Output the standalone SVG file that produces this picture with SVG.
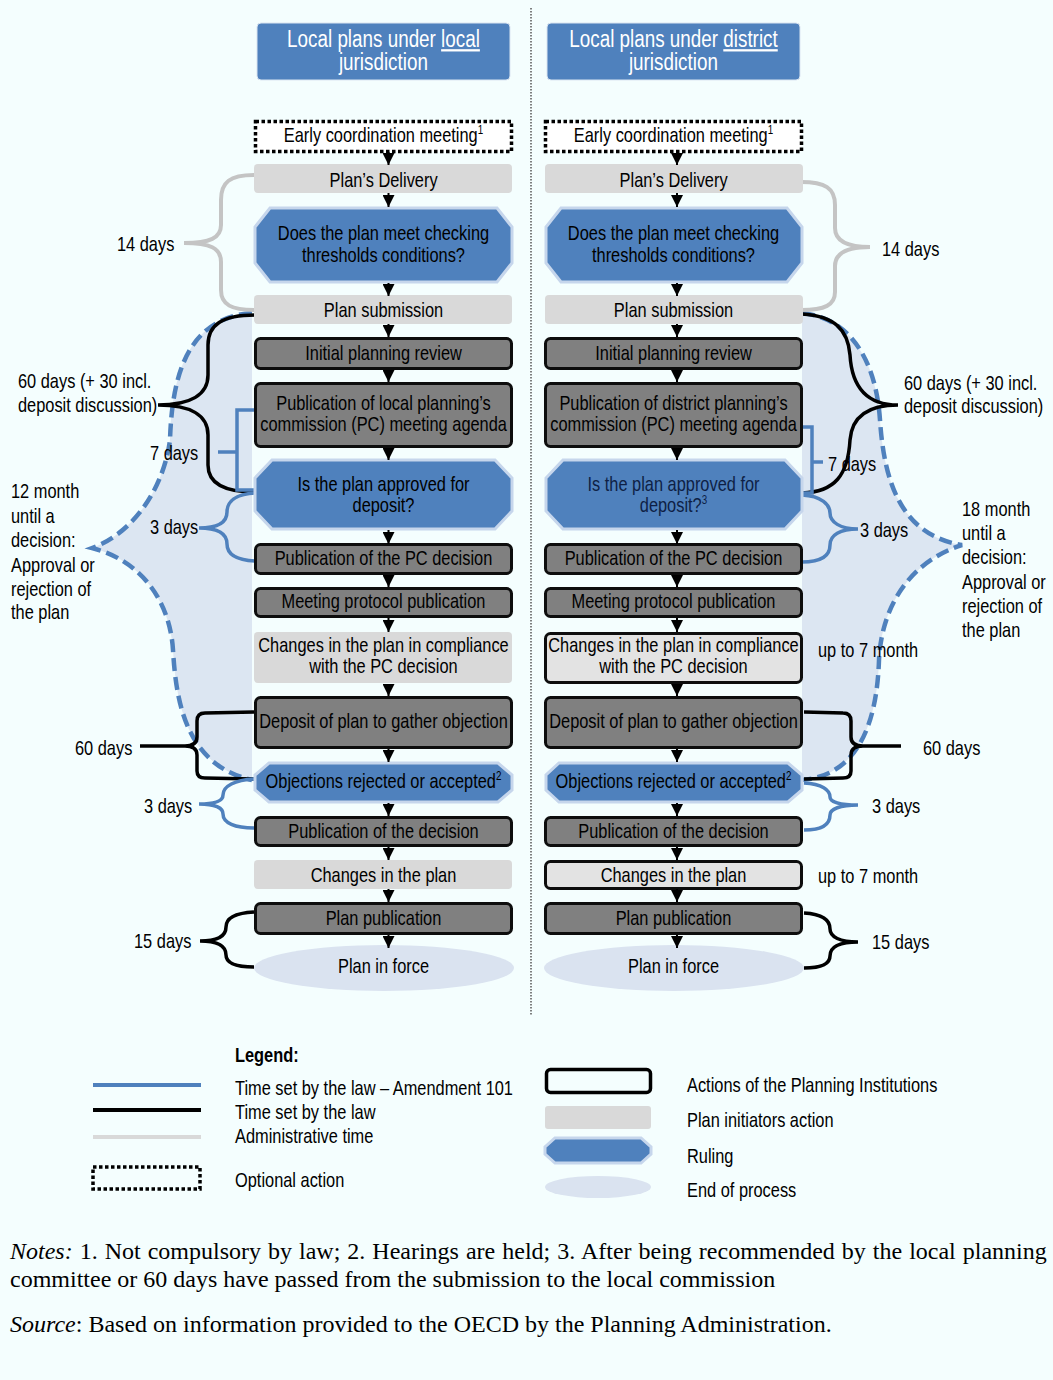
<svg xmlns="http://www.w3.org/2000/svg" width="1053" height="1380" viewBox="0 0 1053 1380">
<defs>
<style>
.t{font-family:"Liberation Sans Narrow","Arial Narrow","Liberation Sans",sans-serif;font-size:20px;fill:#000;transform-box:fill-box;transform-origin:0 50%;transform:scale(0.82,1)}
.c{text-anchor:middle;transform-origin:50% 50%}
.hd{fill:#fff;font-size:23px}
.nv{fill:#0e1f45}
.bxd{fill:#808080;stroke:#0d0d0d;stroke-width:3}
.bxl{fill:#d9d9d9}
.bxlb{fill:#e3e3e3;stroke:#0d0d0d;stroke-width:3}
.hex{fill:#4f81bd;stroke:#c6d6ec;stroke-width:3}
.opt{fill:#fff;stroke:#000;stroke-width:3.5;stroke-dasharray:3.5 2.5}
.hdr{fill:#4f81bd;stroke:#dbe5f1;stroke-width:1}
.end{fill:#dae3f0}
.bl{fill:none;stroke:#4f81bd;stroke-width:3.5}
.bk{fill:none;stroke:#000;stroke-width:3.5}
.gr{fill:none;stroke:#c4c4c4;stroke-width:4}
.dash{fill:none;stroke:#4f81bd;stroke-width:4.5;stroke-dasharray:13 6}
.area{fill:#dce6f2}
.conn{stroke:#000;stroke-width:2;marker-end:url(#ah)}
.n{font-family:"Liberation Serif","Times New Roman",serif;font-size:24px;fill:#000}
</style>
<marker id="ah" markerUnits="userSpaceOnUse" markerWidth="12" markerHeight="12" refX="12" refY="6" orient="auto">
<path d="M0,0 L12,6 L0,12 z" fill="#000"/>
</marker>
</defs>
<rect x="0" y="0" width="1053" height="1380" fill="#f4fefe"/>

<g id="areas">
<path class="area" d="M252,313 C185,318 172,380 170,440 C165,480 140,530 92,548 C140,560 170,600 173,650 C176,700 185,765 252,780 Z"/>
<path class="area" d="M802,313 C850,318 876,360 880,420 C884,480 900,535 962,545 C915,560 882,600 879,660 C877,720 860,775 802,780 Z"/>
</g>

<line id="divider" x1="531" y1="8" x2="531" y2="1015" stroke="#555" stroke-width="1.5" stroke-dasharray="1.5 1.5"/>

<g id="braces">
<path class="dash" d="M252,313 C185,318 172,380 170,440 C165,480 140,530 92,548 C140,560 170,600 173,650 C176,700 185,765 252,780"/>
<path class="dash" d="M802,313 C850,318 876,360 880,420 C884,480 900,535 962,545 C915,560 882,600 879,660 C877,720 860,775 802,780"/>
<path class="gr" d="M254,175 C230,175 221,182 221,200 L221,225 C221,238 210,243 184,243 C210,243 221,248 221,262 L221,290 C221,305 232,310 254,310"/>
<path class="gr" d="M801,182 C825,182 835,188 835,205 L835,228 C835,242 848,247 870,247 C848,247 835,252 835,266 L835,292 C835,305 825,310 801,310"/>
<path class="bk" d="M255,315 C222,315 208,325 208,345 L208,375 C208,395 190,405 158,405 C190,405 208,415 208,435 L208,465 C208,482 222,492 255,492"/>
<path class="bk" d="M802,314 C835,316 848,330 850,355 C852,390 870,405 898,405 C870,405 852,415 850,440 C848,475 835,492 802,493"/>
<path class="bl" d="M255,410 L237,410 L237,490 L255,490 M218,452 L237,452"/>
<path class="bl" d="M802,427 L812,427 L812,493 L802,493 M812,462 L823,462"/>
<path class="bl" d="M255,493 C235,494 227,502 227,512 C227,522 218,528 199,528 C218,528 227,534 227,544 C227,554 235,560 255,561"/>
<path class="bl" d="M802,495 C822,496 830,505 830,513 C830,522 840,529 858,529 C840,529 830,535 830,545 C830,555 822,562 802,562"/>
<path class="bk" stroke-width="4" d="M254,712 L205,713 Q197,713 197,721 L197,737 Q197,746 185,746 L140,746 M185,746 Q197,746 197,755 L197,771 Q197,778 205,778 L254,779"/>
<path class="bk" stroke-width="4" d="M804,712 L843,713 Q851,713 851,721 L851,737 Q851,746 863,746 L901,746 M863,746 Q851,746 851,755 L851,771 Q851,778 843,778 L804,779"/>
<path class="bl" d="M254,779 C235,780 223,786 223,795 C223,801 215,804 199,804 C215,804 223,808 223,814 C223,823 235,828 254,828"/>
<path class="bl" d="M804,783 C822,784 830,790 830,797 C830,802 840,805 858,805 C840,805 830,809 830,815 C830,824 822,830 804,830"/>
<path class="bk" d="M254,912 C235,913 226,918 226,927 C226,936 218,941 200,941 C218,941 226,946 226,955 C226,963 235,967 254,967"/>
<path class="bk" d="M804,913 C822,914 830,920 830,929 C830,937 840,942 858,942 C840,942 830,947 830,956 C830,964 822,968 804,968"/>
</g>

<g id="nodes">
<g id="hdr-left"><rect class="hdr" x="257" y="23" width="253" height="57" rx="4"/>
<text class="t c hd" x="383.5" y="47">Local plans under <tspan text-decoration="underline">local</tspan></text>
<text class="t c hd" x="383.5" y="70">jurisdiction</text></g>
<g id="hdr-right"><rect class="hdr" x="547" y="23" width="253" height="57" rx="4"/>
<text class="t c hd" x="673.5" y="47">Local plans under <tspan text-decoration="underline">district</tspan></text>
<text class="t c hd" x="673.5" y="70">jurisdiction</text></g>

<g id="L1"><rect class="opt" x="255.5" y="121.5" width="256" height="30"/><text class="t c" x="383.5" y="142">Early coordination meeting<tspan font-size="12" dy="-8">1</tspan></text></g>
<g id="L2"><rect class="bxl" x="254" y="164" width="258" height="29" rx="4"/><text class="t c" x="383.5" y="187">Plan’s Delivery</text></g>
<g id="L3"><polygon class="hex" points="270,208 497,208 512,227 512,263 497,282 270,282 255,263 255,227"/><text class="t c" x="383.5" y="240">Does the plan meet checking</text><text class="t c" x="383.5" y="262">thresholds conditions?</text></g>
<g id="L4"><rect class="bxl" x="254" y="295" width="258" height="29" rx="4"/><text class="t c" x="383.5" y="317">Plan submission</text></g>
<g id="L5"><rect class="bxd" x="255.5" y="338.5" width="256" height="30" rx="5"/><text class="t c" x="383.5" y="360">Initial planning review</text></g>
<g id="L6"><rect class="bxd" x="255.5" y="383.5" width="256" height="63" rx="5"/><text class="t c" x="383.5" y="410">Publication of local planning’s</text><text class="t c" x="383.5" y="431">commission (PC) meeting agenda</text></g>
<g id="L7"><polygon class="hex" points="272,460 495,460 512,478 512,511 495,529 272,529 255,511 255,478"/><text class="t c" x="383.5" y="491">Is the plan approved for</text><text class="t c" x="383.5" y="512">deposit?</text></g>
<g id="L8"><rect class="bxd" x="255.5" y="544.5" width="256" height="29" rx="5"/><text class="t c" x="383.5" y="565">Publication of the PC decision</text></g>
<g id="L9"><rect class="bxd" x="255.5" y="588.5" width="256" height="28" rx="5"/><text class="t c" x="383.5" y="608">Meeting protocol publication</text></g>
<g id="L10"><rect class="bxl" x="254" y="632" width="258" height="51" rx="4"/><text class="t c" x="383.5" y="652">Changes in the plan in compliance</text><text class="t c" x="383.5" y="673">with the PC decision</text></g>
<g id="L11"><rect class="bxd" x="255.5" y="697.5" width="256" height="50" rx="5"/><text class="t c" x="383.5" y="728">Deposit of plan to gather objection</text></g>
<g id="L12"><polygon class="hex" points="269,763 498,763 512,775 512,790 498,802 269,802 255,790 255,775"/><text class="t c" x="383.5" y="788">Objections rejected or accepted<tspan font-size="12" dy="-8">2</tspan></text></g>
<g id="L13"><rect class="bxd" x="255.5" y="817.5" width="256" height="28" rx="5"/><text class="t c" x="383.5" y="838">Publication of the decision</text></g>
<g id="L14"><rect class="bxl" x="254" y="860" width="258" height="29" rx="4"/><text class="t c" x="383.5" y="882">Changes in the plan</text></g>
<g id="L15"><rect class="bxd" x="255.5" y="903.5" width="256" height="30" rx="5"/><text class="t c" x="383.5" y="925">Plan publication</text></g>
<g id="L16"><ellipse class="end" cx="384" cy="968" rx="130" ry="23"/><text class="t c" x="383.5" y="973">Plan in force</text></g>

<g id="R1"><rect class="opt" x="545.5" y="121.5" width="256" height="30"/><text class="t c" x="673.5" y="142">Early coordination meeting<tspan font-size="12" dy="-8">1</tspan></text></g>
<g id="R2"><rect class="bxl" x="545" y="164" width="258" height="29" rx="4"/><text class="t c" x="673.5" y="187">Plan’s Delivery</text></g>
<g id="R3"><polygon class="hex" points="561,208 787,208 802,227 802,263 787,282 561,282 546,263 546,227"/><text class="t c" x="673.5" y="240">Does the plan meet checking</text><text class="t c" x="673.5" y="262">thresholds conditions?</text></g>
<g id="R4"><rect class="bxl" x="545" y="295" width="258" height="29" rx="4"/><text class="t c" x="673.5" y="317">Plan submission</text></g>
<g id="R5"><rect class="bxd" x="545.5" y="338.5" width="256" height="30" rx="5"/><text class="t c" x="673.5" y="360">Initial planning review</text></g>
<g id="R6"><rect class="bxd" x="545.5" y="383.5" width="256" height="63" rx="5"/><text class="t c" x="673.5" y="410">Publication of district planning’s</text><text class="t c" x="673.5" y="431">commission (PC) meeting agenda</text></g>
<g id="R7"><polygon class="hex" points="563,460 785,460 802,478 802,511 785,529 563,529 546,511 546,478"/><text class="t c nv" x="673.5" y="491">Is the plan approved for</text><text class="t c nv" x="673.5" y="512">deposit?<tspan font-size="12" dy="-8">3</tspan></text></g>
<g id="R8"><rect class="bxd" x="545.5" y="544.5" width="256" height="29" rx="5"/><text class="t c" x="673.5" y="565">Publication of the PC decision</text></g>
<g id="R9"><rect class="bxd" x="545.5" y="588.5" width="256" height="28" rx="5"/><text class="t c" x="673.5" y="608">Meeting protocol publication</text></g>
<g id="R10"><rect class="bxlb" x="545.5" y="633.5" width="256" height="49" rx="5"/><text class="t c" x="673.5" y="652">Changes in the plan in compliance</text><text class="t c" x="673.5" y="673">with the PC decision</text></g>
<g id="R11"><rect class="bxd" x="545.5" y="697.5" width="256" height="50" rx="5"/><text class="t c" x="673.5" y="728">Deposit of plan to gather objection</text></g>
<g id="R12"><polygon class="hex" points="559,763 788,763 802,775 802,790 788,802 559,802 546,790 546,775"/><text class="t c" x="673.5" y="788">Objections rejected or accepted<tspan font-size="12" dy="-8">2</tspan></text></g>
<g id="R13"><rect class="bxd" x="545.5" y="817.5" width="256" height="28" rx="5"/><text class="t c" x="673.5" y="838">Publication of the decision</text></g>
<g id="R14"><rect class="bxlb" x="545.5" y="861.5" width="256" height="27" rx="5"/><text class="t c" x="673.5" y="882">Changes in the plan</text></g>
<g id="R15"><rect class="bxd" x="545.5" y="903.5" width="256" height="30" rx="5"/><text class="t c" x="673.5" y="925">Plan publication</text></g>
<g id="R16"><ellipse class="end" cx="674" cy="968" rx="130" ry="23"/><text class="t c" x="673.5" y="973">Plan in force</text></g>
</g>

<g id="connectors">
<line class="conn" x1="388.5" y1="152" x2="388.5" y2="165"/>
<line class="conn" x1="388.5" y1="193" x2="388.5" y2="207"/>
<line class="conn" x1="388.5" y1="283" x2="388.5" y2="296"/>
<line class="conn" x1="388.5" y1="324" x2="388.5" y2="337"/>
<line class="conn" x1="388.5" y1="370" x2="388.5" y2="382"/>
<line class="conn" x1="388.5" y1="448" x2="388.5" y2="460"/>
<line class="conn" x1="388.5" y1="530" x2="388.5" y2="544"/>
<line class="conn" x1="388.5" y1="575" x2="388.5" y2="587"/>
<line class="conn" x1="388.5" y1="618" x2="388.5" y2="632"/>
<line class="conn" x1="388.5" y1="684" x2="388.5" y2="696"/>
<line class="conn" x1="388.5" y1="749" x2="388.5" y2="762"/>
<line class="conn" x1="388.5" y1="803" x2="388.5" y2="816"/>
<line class="conn" x1="388.5" y1="847" x2="388.5" y2="860"/>
<line class="conn" x1="388.5" y1="889" x2="388.5" y2="902"/>
<line class="conn" x1="388.5" y1="935" x2="388.5" y2="948"/>
<line class="conn" x1="677" y1="152" x2="677" y2="165"/>
<line class="conn" x1="677" y1="193" x2="677" y2="207"/>
<line class="conn" x1="677" y1="283" x2="677" y2="296"/>
<line class="conn" x1="677" y1="324" x2="677" y2="337"/>
<line class="conn" x1="677" y1="370" x2="677" y2="382"/>
<line class="conn" x1="677" y1="448" x2="677" y2="460"/>
<line class="conn" x1="677" y1="530" x2="677" y2="544"/>
<line class="conn" x1="677" y1="575" x2="677" y2="587"/>
<line class="conn" x1="677" y1="618" x2="677" y2="632"/>
<line class="conn" x1="677" y1="684" x2="677" y2="696"/>
<line class="conn" x1="677" y1="749" x2="677" y2="762"/>
<line class="conn" x1="677" y1="803" x2="677" y2="816"/>
<line class="conn" x1="677" y1="847" x2="677" y2="860"/>
<line class="conn" x1="677" y1="889" x2="677" y2="902"/>
<line class="conn" x1="677" y1="935" x2="677" y2="948"/>
</g>

<g id="labels">
<text class="t" x="117" y="251">14 days</text>
<text class="t" x="882" y="256">14 days</text>
<text class="t" x="18" y="388">60 days (+ 30 incl.</text>
<text class="t" x="18" y="412">deposit discussion)</text>
<text class="t" x="904" y="390">60 days (+ 30 incl.</text>
<text class="t" x="904" y="413">deposit discussion)</text>
<text class="t" x="150" y="460">7 days</text>
<text class="t" x="828" y="471">7 days</text>
<text class="t" x="150" y="534">3 days</text>
<text class="t" x="860" y="537">3 days</text>
<text class="t" x="11" y="498">12 month</text>
<text class="t" x="11" y="523">until a</text>
<text class="t" x="11" y="547">decision:</text>
<text class="t" x="11" y="572">Approval or</text>
<text class="t" x="11" y="596">rejection of</text>
<text class="t" x="11" y="619">the plan</text>
<text class="t" x="962" y="516">18 month</text>
<text class="t" x="962" y="540">until a</text>
<text class="t" x="962" y="564">decision:</text>
<text class="t" x="962" y="589">Approval or</text>
<text class="t" x="962" y="613">rejection of</text>
<text class="t" x="962" y="637">the plan</text>
<text class="t" x="818" y="657">up to 7 month</text>
<text class="t" x="75" y="755">60 days</text>
<text class="t" x="923" y="755">60 days</text>
<text class="t" x="144" y="813">3 days</text>
<text class="t" x="872" y="813">3 days</text>
<text class="t" x="818" y="883">up to 7 month</text>
<text class="t" x="134" y="948">15 days</text>
<text class="t" x="872" y="949">15 days</text>
</g>

<g id="legend">
<text class="t" x="235" y="1062" font-weight="bold">Legend:</text>
<line x1="93" y1="1085" x2="201" y2="1085" stroke="#4f81bd" stroke-width="4"/>
<line x1="93" y1="1110" x2="201" y2="1110" stroke="#000" stroke-width="4"/>
<line x1="93" y1="1137" x2="201" y2="1137" stroke="#d9d9d9" stroke-width="4"/>
<rect class="opt" x="93" y="1167" width="107" height="22" style="fill:none"/>
<text class="t" x="235" y="1095">Time set by the law – Amendment 101</text>
<text class="t" x="235" y="1119">Time set by the law</text>
<text class="t" x="235" y="1143">Administrative time</text>
<text class="t" x="235" y="1187">Optional action</text>
<rect x="546.5" y="1069.5" width="104" height="23" rx="4" fill="none" stroke="#000" stroke-width="3.5"/>
<rect class="bxl" x="545" y="1106" width="106" height="23" rx="3"/>
<polygon class="hex" points="555,1138 641,1138 651,1147 651,1154 641,1163 555,1163 545,1154 545,1147"/>
<ellipse class="end" cx="598" cy="1187" rx="53" ry="11"/>
<text class="t" x="687" y="1092">Actions of the Planning Institutions</text>
<text class="t" x="687" y="1127">Plan initiators action</text>
<text class="t" x="687" y="1163">Ruling</text>
<text class="t" x="687" y="1197">End of process</text>
</g>

<g id="notes">
<text class="n" x="10" y="1259" word-spacing="1"><tspan font-style="italic">Notes:</tspan> 1. Not compulsory by law; 2. Hearings are held; 3. After being recommended by the local planning</text>
<text class="n" x="10" y="1287">committee or 60 days have passed from the submission to the local commission</text>
<text class="n" x="10" y="1332"><tspan font-style="italic">Source</tspan>: Based on information provided to the OECD by the Planning Administration.</text>
</g>
</svg>
